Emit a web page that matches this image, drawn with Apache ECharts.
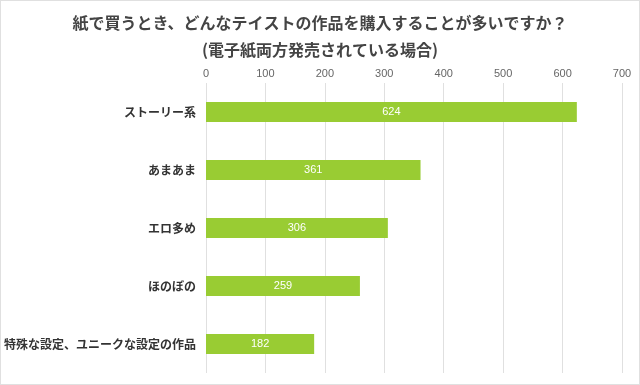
<!DOCTYPE html>
<html><head><meta charset="utf-8">
<script src="https://cdn.jsdelivr.net/npm/echarts@6/dist/echarts.min.js"></script>
<style>html,body{margin:0;padding:0;background:#fff}#c{width:638px;height:383px;border:1px solid #e0e0e0}</style>
</head><body><div id="c"></div>
<script>
const categories = ["ストーリー系", "あまあま", "エロ多め", "ほのぼの", "特殊な設定、ユニークな設定の作品"];
const values = [624, 361, 306, 259, 182];
const titleLines = ["紙で買うとき、どんなテイストの作品を購入することが多いですか？", "(電子紙両方発売されている場合)"];
const chart = echarts.init(document.getElementById('c'));
chart.setOption({
  animation: false,
  title: {
    text: titleLines.join('\n'),
    left: 'center', top: 3,
    textStyle: {fontSize: 16, fontWeight: 'bold', color: '#444', lineHeight: 27, fontFamily: 'Noto Sans CJK JP'}
  },
  grid: {left: 204, right: 17, top: 82, bottom: 11},
  xAxis: {
    type: 'value', position: 'top', min: 0, max: 700, interval: 100,
    axisLine: {show: false}, axisTick: {show: false},
    axisLabel: {color: '#666', fontSize: 11, fontFamily: 'Liberation Sans', margin: 4},
    splitLine: {lineStyle: {color: '#e0e0e0', width: 1}}
  },
  yAxis: {
    type: 'category', inverse: true, data: categories,
    axisLine: {show: false}, axisTick: {show: false},
    axisLabel: {color: '#333', fontSize: 12, fontWeight: 'bold', fontFamily: 'Noto Sans CJK JP', margin: 10}
  },
  series: [{
    type: 'bar', data: values, barWidth: 20,
    itemStyle: {color: '#99cc33'},
    label: {show: true, position: 'inside', color: '#fff', fontSize: 11, fontFamily: 'Liberation Sans'}
  }]
});
</script></body></html>
